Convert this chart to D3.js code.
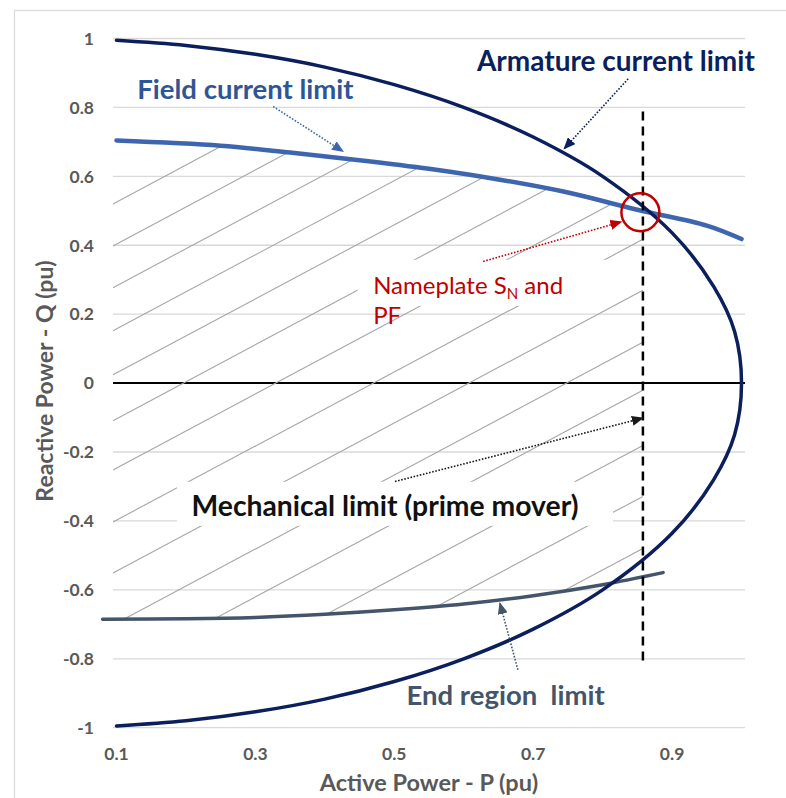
<!DOCTYPE html>
<html>
<head>
<meta charset="utf-8">
<script src="https://cdn.jsdelivr.net/npm/d3@7"></script>
<style>
  body { margin: 0; background: #fff; }
  svg { display: block; }
</style>
</head>
<body>
<svg id="chart" width="786" height="798"></svg>
<script>
// ---- Capability-chart data (per-unit) ----
const xTicks = [0.1, 0.3, 0.5, 0.7, 0.9];
const xTickLabels = ["0.1", "0.3", "0.5", "0.7", "0.9"];
const yTicks = [-1, -0.8, -0.6, -0.4, -0.2, 0, 0.2, 0.4, 0.6, 0.8, 1];
const yTickLabels = ["-1", "-0.8", "-0.6", "-0.4", "-0.2", "0", "0.2", "0.4", "0.6", "0.8", "1"];

// Armature current limit (|S| = 1 pu), traced from the over-excited end round to the under-excited end
const armP = [0.1, 0.2, 0.3, 0.4, 0.5, 0.6, 0.7, 0.8, 0.9, 0.96, 0.99, 1.0,
              0.99, 0.96, 0.9, 0.8, 0.7, 0.6, 0.5, 0.4, 0.3, 0.2, 0.1];
const armQ = [0.995, 0.980, 0.954, 0.917, 0.866, 0.800, 0.714, 0.600, 0.436, 0.280, 0.150, 0,
              -0.150, -0.280, -0.436, -0.600, -0.714, -0.800, -0.866, -0.917, -0.954, -0.980, -0.995];

// Field current limit
const fieldP = [0.1, 0.25, 0.35, 0.45, 0.55, 0.65, 0.75, 0.85, 0.95, 1.0];
const fieldQ = [0.704, 0.689, 0.669, 0.647, 0.622, 0.591, 0.553, 0.503, 0.457, 0.418];

// End region (under-excitation) limit
const endP = [0.08, 0.2, 0.3, 0.4, 0.5, 0.6, 0.7, 0.8, 0.887];
const endQ = [-0.685, -0.684, -0.680, -0.671, -0.658, -0.641, -0.617, -0.585, -0.550];

// Mechanical (prime mover) limit and nameplate operating point
const mechP = 0.858;
const mechQRange = [-0.822, 0.788];
const nameplateP = 0.8544;
const nameplateQ = 0.4957;

// Hatching of the permitted operating area: Q intercept at the left edge, common slope
const hatchQ0 = [0.520, 0.398, 0.277, 0.152, 0.024, -0.109, -0.252, -0.403, -0.551,
                 -0.702, -0.841, -1.001, -1.149, -1.300];
const hatchSlope = 1.075;

// ---- Layout ----
const W = 786, H = 798;
const xDomain = [0.095, 1.005];
const x = d3.scaleLinear().domain(xDomain).range([113, 745]);
const y = d3.scaleLinear().domain([-1, 1]).range([727.7, 38.5]);

const FONT = "Lato, 'Open Sans', 'Liberation Sans', sans-serif";
const C = {
  grid: "#d9d9d9",
  tick: "#595959",
  arm: "#0b1f5c",
  field: "#3e66ae",
  fieldText: "#2f5597",
  end: "#44546a",
  red: "#c00000",
  hatch: "#a6a6a6",
  black: "#111"
};

const svg = d3.select("#chart");
const defs = svg.append("defs");

// Outer chart-area frame
svg.append("rect")
  .attr("x", 14.5).attr("y", 10.5)
  .attr("width", 820).attr("height", 820)
  .attr("fill", "#fff").attr("stroke", "#d9d9d9").attr("stroke-width", 1.2);

// Horizontal gridlines
svg.append("g").selectAll("line")
  .data(yTicks.filter(d => d !== 0))
  .join("line")
  .attr("x1", x(xDomain[0])).attr("x2", x(xDomain[1]))
  .attr("y1", d => y(d)).attr("y2", d => y(d))
  .attr("stroke", C.grid).attr("stroke-width", 1.3);

// Y tick labels
svg.append("g").selectAll("text")
  .data(yTicks)
  .join("text")
  .attr("x", 94).attr("y", d => y(d))
  .attr("dy", "0.36em")
  .attr("text-anchor", "end")
  .attr("font-family", FONT).attr("font-weight", 700).attr("font-size", 17.5)
  .attr("fill", C.tick)
  .text((d, i) => yTickLabels[i]);

// X tick labels
svg.append("g").selectAll("text")
  .data(xTicks)
  .join("text")
  .attr("x", d => x(d)).attr("y", 759.5)
  .attr("text-anchor", "middle")
  .attr("font-family", FONT).attr("font-weight", 700).attr("font-size", 17.5)
  .attr("fill", C.tick)
  .text((d, i) => xTickLabels[i]);

// Axis titles
svg.append("text")
  .attr("transform", "translate(53,381) rotate(-90)")
  .attr("text-anchor", "middle")
  .attr("font-family", FONT).attr("font-weight", 700).attr("font-size", 23)
  .attr("fill", C.tick)
  .text("Reactive Power - Q (pu)");

svg.append("text")
  .attr("x", 429).attr("y", 791)
  .attr("text-anchor", "middle")
  .attr("font-family", FONT).attr("font-weight", 700).attr("font-size", 23.5)
  .attr("fill", C.tick)
  .text("Active Power - P (pu)");

// Q = 0 axis line
svg.append("line")
  .attr("x1", x(xDomain[0])).attr("x2", x(xDomain[1]))
  .attr("y1", y(0)).attr("y2", y(0))
  .attr("stroke", "#000").attr("stroke-width", 2);

// ---- Hatched operating region ----
const smooth = d3.curveCatmullRom.alpha(0.5);
const fieldPts = fieldP.map((p, i) => [p, fieldQ[i]]);
const endPts = endP.map((p, i) => [p, endQ[i]]);

const mask = defs.append("mask").attr("id", "opArea").attr("maskUnits", "userSpaceOnUse")
  .attr("x", 0).attr("y", 0).attr("width", W).attr("height", H);
mask.append("rect")
  .attr("x", x(xDomain[0])).attr("y", 0)
  .attr("width", x(mechP) - x(xDomain[0])).attr("height", H)
  .attr("fill", "#fff");
mask.append("path").datum(fieldPts)
  .attr("d", d3.area().x(d => x(d[0])).y0(0).y1(d => y(d[1])).curve(smooth))
  .attr("fill", "#000");
mask.append("path").datum(endPts)
  .attr("d", d3.area().x(d => x(d[0])).y0(d => y(d[1])).y1(H).curve(smooth))
  .attr("fill", "#000");

svg.append("g").attr("mask", "url(#opArea)")
  .selectAll("line")
  .data(hatchQ0)
  .join("line")
  .attr("x1", x(xDomain[0])).attr("y1", q => y(q))
  .attr("x2", x(mechP)).attr("y2", q => y(q + hatchSlope * (mechP - xDomain[0])))
  .attr("stroke", C.hatch).attr("stroke-width", 1.1);

// White label backgrounds that interrupt the hatching
const boxes = [
  { p0: 0.4474, p1: 0.8048, q0: 0.3578, q1: 0.2243 },
  { p0: 0.187, p1: 0.815, q0: -0.2864, q1: -0.4141 }
];
svg.append("g").selectAll("rect")
  .data(boxes)
  .join("rect")
  .attr("x", d => x(d.p0)).attr("y", d => y(d.q0))
  .attr("width", d => x(d.p1) - x(d.p0)).attr("height", d => y(d.q1) - y(d.q0))
  .attr("fill", "#fff");

// ---- Limit curves ----
const line = d3.line().x(d => x(d[0])).y(d => y(d[1])).curve(smooth);

svg.append("path").datum(endPts)
  .attr("d", line).attr("fill", "none")
  .attr("stroke", C.end).attr("stroke-width", 3.5).attr("stroke-linecap", "round");

svg.append("path").datum(fieldPts)
  .attr("d", line).attr("fill", "none")
  .attr("stroke", C.field).attr("stroke-width", 4.5).attr("stroke-linecap", "round");

svg.append("path").datum(armP.map((p, i) => [p, armQ[i]]))
  .attr("d", line).attr("fill", "none")
  .attr("stroke", C.arm).attr("stroke-width", 3.5)
  .attr("stroke-linecap", "round").attr("stroke-linejoin", "round");

// Mechanical limit (dashed vertical)
svg.append("line")
  .attr("x1", x(mechP)).attr("x2", x(mechP))
  .attr("y1", y(mechQRange[1])).attr("y2", y(mechQRange[0]))
  .attr("stroke", "#000").attr("stroke-width", 2.5)
  .attr("stroke-dasharray", "9 6");

// Nameplate point marker
svg.append("circle")
  .attr("cx", x(nameplateP)).attr("cy", y(nameplateQ)).attr("r", 19)
  .attr("fill", "none").attr("stroke", C.red).attr("stroke-width", 2.5);

// ---- Annotation arrows (dotted leader + filled head) ----
function arrowHead(id, color) {
  defs.append("marker")
    .attr("id", id)
    .attr("viewBox", "0 0 12 10")
    .attr("refX", 11).attr("refY", 5)
    .attr("markerWidth", 12).attr("markerHeight", 10)
    .attr("markerUnits", "userSpaceOnUse")
    .attr("orient", "auto")
    .append("path").attr("d", "M0,0L12,5L0,10Z").attr("fill", color);
}
const arrows = [
  { id: "ahField", color: C.field, from: [0.3256, 0.8027], to: [0.4264, 0.672] },
  { id: "ahArm", color: C.arm, from: [0.8368, 0.883], to: [0.7446, 0.680] },
  { id: "ahRed", color: C.red, from: [0.628, 0.353], to: [0.827, 0.468] },
  { id: "ahMech", color: "#1a1a1a", from: [0.501, -0.2855], to: [0.858, -0.1016] },
  { id: "ahEnd", color: C.end, from: [0.678, -0.832], to: [0.652, -0.638] }
];
arrows.forEach(a => arrowHead(a.id, a.color));
svg.append("g").selectAll("line")
  .data(arrows)
  .join("line")
  .attr("x1", d => x(d.from[0])).attr("y1", d => y(d.from[1]))
  .attr("x2", d => x(d.to[0])).attr("y2", d => y(d.to[1]))
  .attr("stroke", d => d.color).attr("stroke-width", 1.6)
  .attr("stroke-dasharray", "1.6 1.6")
  .attr("marker-end", d => `url(#${d.id})`);

// ---- Curve labels ----
const labels = [
  { text: "Field current limit", p: 0.130, q: 0.825, color: C.fieldText, size: 27.5, weight: 700 },
  { text: "Armature current limit", p: 0.619, q: 0.907, color: C.arm, size: 28, weight: 700 },
  { text: "Mechanical limit (prime mover)", p: 0.208, q: -0.387, color: C.black, size: 28.3, weight: 700 },
  { text: "End region\u00a0\u00a0limit", p: 0.5177, q: -0.9335, color: C.end, size: 27.5, weight: 700 }
];
svg.append("g").selectAll("text")
  .data(labels)
  .join("text")
  .attr("x", d => x(d.p)).attr("y", d => y(d.q))
  .attr("font-family", FONT).attr("font-weight", d => d.weight).attr("font-size", d => d.size)
  .attr("fill", d => d.color)
  .text(d => d.text);

// Nameplate label with subscript N
const np = svg.append("text")
  .attr("x", x(0.4696)).attr("y", y(0.259))
  .attr("font-family", FONT).attr("font-size", 24)
  .attr("fill", C.red);
np.append("tspan").text("Nameplate S");
np.append("tspan").attr("font-size", 15).attr("dy", 5).text("N");
np.append("tspan").attr("dy", -5).text(" and");
svg.append("text")
  .attr("x", x(0.4696)).attr("y", y(0.172))
  .attr("font-family", FONT).attr("font-size", 24)
  .attr("fill", C.red)
  .text("PF");
</script>
</body>
</html>
